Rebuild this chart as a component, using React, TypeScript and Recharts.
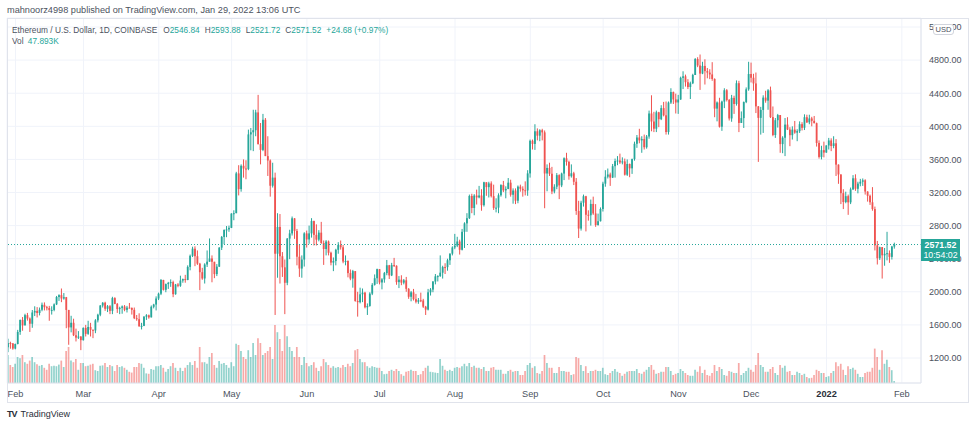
import React from 'react';
import { ComposedChart, Bar, XAxis, YAxis, CartesianGrid, ReferenceLine, Cell } from 'recharts';

// ETH/USD daily, Coinbase, 29 Jan 2021 -> 29 Jan 2022 (index 0 = 29 Jan 2021)
const firstOpen = 1330;
const lastOpen = 2546.84;

const closes = [
  1381, 1377, 1314,
  // Feb
  1369, 1515, 1660, 1594, 1718, 1677, 1614, 1750, 1769, 1744, 1783, 1843, 1814, 1804, 1779, 1781, 1848, 1937, 1960, 1919, 1935, 1781, 1570, 1626, 1475, 1446, 1459, 1416,
  // Mar
  1564, 1492, 1575, 1541, 1533, 1655, 1723, 1834, 1868, 1795, 1826, 1770, 1924, 1854, 1791, 1806, 1823, 1782, 1809, 1806, 1782, 1681, 1669, 1582, 1588, 1700, 1716, 1691, 1819, 1846, 1919,
  // Apr
  1977, 2143, 2024, 2093, 2108, 2117, 1971, 2088, 2073, 2136, 2154, 2143, 2301, 2435, 2521, 2430, 2340, 2237, 2161, 2330, 2364, 2403, 2363, 2214, 2304, 2534, 2663, 2747, 2754, 2773,
  // May
  2945, 2950, 3431, 3241, 3523, 3490, 3484, 3902, 3928, 3953, 4168, 3785, 3715, 4079, 3640, 3587, 3282, 3380, 2460, 2784, 2430, 2296, 2109, 2643, 2706, 2888, 2736, 2424, 2281, 2390, 2706,
  // Jun
  2633, 2706, 2855, 2688, 2630, 2715, 2590, 2517, 2608, 2472, 2353, 2372, 2508, 2565, 2538, 2366, 2373, 2226, 2160, 2250, 1889, 1875, 1970, 1990, 1813, 1829, 1978, 2084, 2164, 2274,
  // Jul
  2113, 2150, 2226, 2321, 2198, 2323, 2315, 2117, 2147, 2111, 2139, 2036, 1940, 1994, 1911, 1880, 1898, 1895, 1820, 1785, 1994, 2027, 2124, 2187, 2190, 2231, 2299, 2298, 2381, 2461, 2536,
  // Aug
  2558, 2608, 2508, 2725, 2827, 2890, 3158, 3013, 3163, 3141, 3164, 3047, 3324, 3265, 3310, 3156, 3014, 3017, 3167, 3290, 3226, 3243, 3319, 3173, 3224, 3101, 3271, 3245, 3227, 3225, 3431,
  // Sep
  3825, 3787, 3940, 3887, 3953, 3927, 3430, 3497, 3427, 3212, 3270, 3410, 3286, 3429, 3614, 3570, 3397, 3432, 3330, 2977, 2764, 3077, 3155, 2931, 2925, 3062, 2947, 2807, 2853, 3001,
  // Oct
  3307, 3391, 3418, 3380, 3518, 3580, 3587, 3563, 3576, 3415, 3545, 3492, 3604, 3789, 3865, 3830, 3846, 3747, 3877, 4155, 4058, 3971, 4169, 4086, 4220, 4133, 3931, 4287, 4414, 4325, 4288,
  // Nov
  4324, 4586, 4604, 4533, 4475, 4520, 4620, 4813, 4735, 4637, 4730, 4667, 4649, 4627, 4572, 4214, 4288, 3995, 4299, 4436, 4318, 4095, 4344, 4270, 4521, 4041, 4099, 4293, 4447, 4632,
  // Dec
  4587, 4518, 4241, 4102, 4198, 4347, 4310, 4435, 4111, 3895, 4074, 4136, 3785, 3862, 4021, 3961, 3893, 3960, 3924, 3942, 4026, 3982, 4110, 4048, 4095, 4066, 4038, 3799, 3630, 3712, 3683,
  // Jan 2022
  3769, 3829, 3762, 3795, 3537, 3418, 3192, 3085, 3156, 3081, 3238, 3372, 3245, 3308, 3330, 3348, 3212, 3160, 3082, 3000, 2561, 2406, 2540, 2441, 2459, 2467, 2422, 2547, 2571.52,
];

const highs = [
  1433, 1397, 1380,
  1374, 1540, 1665, 1695, 1735, 1745, 1690, 1780, 1825, 1815, 1810, 1870, 1872, 1830, 1830, 1825, 1860, 1950, 1970, 2040, 1985, 1938, 1780, 1710, 1675, 1555, 1525, 1465,
  1570, 1600, 1650, 1625, 1545, 1670, 1735, 1840, 1875, 1880, 1840, 1840, 1940, 1935, 1865, 1820, 1835, 1840, 1830, 1865, 1810, 1810, 1720, 1740, 1625, 1705, 1730, 1725, 1835, 1855, 1945,
  1990, 2155, 2145, 2100, 2120, 2150, 2135, 2095, 2105, 2195, 2160, 2205, 2320, 2450, 2545, 2550, 2500, 2350, 2290, 2345, 2500, 2645, 2440, 2360, 2335, 2540, 2675, 2755, 2795, 2800,
  2950, 2985, 3450, 3530, 3540, 3600, 3590, 3960, 3980, 4200, 4200, 4380, 4040, 4150, 4100, 3880, 3600, 3560, 3440, 2950, 2940, 2480, 2390, 2650, 2750, 2910, 2890, 2760, 2570, 2440, 2720,
  2740, 2800, 2890, 2860, 2815, 2745, 2845, 2620, 2625, 2620, 2485, 2415, 2520, 2600, 2620, 2565, 2440, 2380, 2270, 2265, 2250, 2000, 2050, 2040, 2000, 1860, 1995, 2105, 2210, 2280,
  2275, 2165, 2240, 2385, 2325, 2350, 2410, 2320, 2190, 2200, 2155, 2180, 2045, 2010, 2035, 1975, 1925, 1990, 1915, 1830, 2035, 2045, 2130, 2215, 2200, 2440, 2315, 2345, 2400, 2465, 2550,
  2700, 2665, 2630, 2760, 2840, 2950, 3175, 3185, 3180, 3235, 3280, 3240, 3330, 3320, 3330, 3335, 3295, 3130, 3190, 3300, 3340, 3275, 3375, 3355, 3250, 3250, 3285, 3295, 3275, 3335, 3470,
  3840, 3840, 4025, 3975, 3965, 3970, 3950, 3540, 3560, 3510, 3300, 3435, 3420, 3440, 3625, 3680, 3585, 3540, 3450, 3375, 3100, 3100, 3175, 3160, 2985, 3115, 3150, 3060, 2945, 3020,
  3330, 3470, 3490, 3440, 3545, 3610, 3640, 3670, 3625, 3610, 3600, 3550, 3610, 3815, 3895, 3970, 3880, 3900, 3895, 4190, 4375, 4175, 4190, 4175, 4255, 4295, 4300, 4300, 4460, 4420, 4395,
  4380, 4600, 4665, 4625, 4570, 4540, 4635, 4825, 4835, 4868, 4780, 4810, 4705, 4690, 4775, 4580, 4300, 4345, 4310, 4460, 4450, 4330, 4380, 4370, 4555, 4550, 4180, 4300, 4470, 4780,
  4770, 4635, 4650, 4245, 4235, 4375, 4430, 4450, 4480, 4240, 4100, 4150, 4135, 3880, 4100, 4110, 3990, 4000, 4065, 3965, 4060, 4050, 4145, 4140, 4140, 4115, 4125, 4045, 3830, 3765, 3815,
  3770, 3860, 3855, 3880, 3845, 3540, 3420, 3240, 3210, 3175, 3260, 3410, 3420, 3330, 3365, 3370, 3360, 3215, 3175, 3265, 3030, 2615, 2545, 2450, 2530, 2725, 2500, 2555, 2593.88,
];

const lows = [
  1270, 1312, 1300,
  1305, 1365, 1480, 1530, 1595, 1652, 1515, 1565, 1707, 1690, 1715, 1765, 1775, 1775, 1650, 1725, 1765, 1840, 1890, 1875, 1905, 1560, 1360, 1510, 1465, 1400, 1430, 1295,
  1410, 1460, 1480, 1460, 1440, 1500, 1630, 1705, 1810, 1770, 1755, 1730, 1730, 1850, 1745, 1730, 1735, 1765, 1750, 1800, 1725, 1670, 1650, 1580, 1545, 1585, 1660, 1675, 1690, 1800, 1775,
  1900, 1960, 2015, 1995, 2035, 2060, 1935, 1965, 2055, 2060, 2110, 2110, 2140, 2260, 2420, 2310, 2325, 2020, 2145, 2100, 2300, 2370, 2115, 2165, 2190, 2300, 2505, 2575, 2660, 2725,
  2770, 2865, 2950, 3165, 3210, 3380, 3360, 3470, 3710, 3700, 3880, 3780, 3540, 3700, 3640, 3400, 3150, 3260, 1720, 2170, 2100, 2180, 1730, 2080, 2395, 2680, 2640, 2320, 2180, 2170, 2305,
  2535, 2580, 2655, 2560, 2560, 2610, 2580, 2325, 2440, 2440, 2320, 2250, 2320, 2460, 2510, 2345, 2320, 2175, 2140, 2050, 1880, 1700, 1860, 1875, 1800, 1720, 1820, 1960, 2075, 2095,
  2090, 2030, 2110, 2200, 2155, 2190, 2300, 2085, 2045, 2080, 2090, 2000, 1915, 1885, 1895, 1860, 1855, 1875, 1805, 1720, 1775, 1955, 1995, 2090, 2125, 2180, 2160, 2215, 2255, 2325, 2440,
  2515, 2540, 2450, 2500, 2530, 2725, 2880, 2950, 2925, 3055, 3130, 2980, 3030, 3160, 3140, 3140, 2990, 2960, 2950, 3150, 3205, 3130, 3240, 3150, 3065, 3060, 3070, 3210, 3150, 3165, 3160,
  3380, 3720, 3715, 3830, 3820, 3830, 3010, 3215, 3400, 3180, 3190, 3240, 3120, 3265, 3350, 3525, 3355, 3380, 3290, 2930, 2650, 2740, 3030, 2730, 2860, 2800, 2930, 2785, 2800, 2850,
  2970, 3270, 3370, 3280, 3375, 3380, 3530, 3545, 3540, 3405, 3400, 3385, 3425, 3585, 3740, 3795, 3680, 3720, 3730, 3850, 3940, 3930, 3930, 3990, 4075, 4120, 3900, 3900, 4270, 4270, 4155,
  4150, 4320, 4450, 4480, 4450, 4330, 4510, 4620, 4715, 4440, 4630, 4505, 4580, 4570, 4550, 4110, 4060, 3985, 3945, 4220, 4300, 4070, 4055, 4150, 4250, 3930, 4040, 3980, 4280, 4430,
  4530, 4430, 4160, 3570, 3900, 3920, 4285, 4200, 4100, 3880, 3860, 3985, 3680, 3675, 3640, 3955, 3760, 3840, 3910, 3820, 3920, 3950, 3955, 4040, 4025, 4000, 4035, 3755, 3610, 3600, 3625,
  3680, 3720, 3700, 3735, 3400, 3305, 3060, 3000, 3070, 2930, 3060, 3230, 3220, 3190, 3275, 3280, 3175, 3090, 3050, 2980, 2500, 2330, 2385, 2160, 2315, 2380, 2350, 2390, 2521.72,
];

// volume, thousands of ETH
const vols = [
  700, 450, 400,
  480, 650, 620, 700, 520, 480, 560, 650, 520, 470, 430, 450, 380, 330, 480, 420, 430, 420, 460, 560, 400, 800, 900, 560, 520, 600, 330, 500,
  500, 420, 430, 460, 480, 320, 300, 430, 440, 500, 400, 450, 420, 300, 450, 400, 420, 380, 330, 280, 260, 400, 400, 500, 480, 380, 240, 230, 350, 330, 420,
  420, 450, 380, 280, 350, 420, 500, 380, 300, 380, 300, 380, 450, 520, 450, 550, 380, 900, 520, 520, 480, 650, 750, 450, 380, 550, 480, 500, 450, 380,
  520, 420, 980, 950, 800, 650, 600, 820, 650, 1000, 700, 1120, 1000, 700, 750, 800, 900, 600, 1450, 1270, 1100, 800, 1450, 1170, 900, 800, 650, 900, 650, 450, 650,
  500, 420, 450, 520, 380, 300, 420, 600, 520, 450, 380, 420, 380, 400, 380, 450, 400, 480, 420, 500, 820, 850, 600, 520, 520, 420, 380, 420, 400, 380,
  380, 300, 220, 230, 300, 330, 300, 350, 300, 220, 180, 280, 300, 330, 300, 300, 200, 220, 300, 380, 430, 280, 270, 260, 250, 600, 430, 330, 300, 330, 300,
  380, 400, 380, 420, 480, 420, 500, 400, 430, 380, 380, 350, 400, 300, 300, 380, 400, 330, 330, 330, 230, 230, 300, 330, 280, 300, 300, 200, 200, 300, 450,
  500, 380, 420, 250, 230, 300, 700, 500, 380, 380, 250, 250, 400, 300, 300, 280, 280, 200, 220, 650, 620, 450, 300, 420, 250, 300, 300, 330, 300, 300,
  380, 220, 200, 250, 300, 350, 280, 250, 180, 230, 280, 300, 300, 300, 350, 250, 230, 280, 330, 400, 450, 330, 230, 250, 280, 280, 400, 400, 300, 200, 230,
  250, 350, 300, 250, 200, 180, 180, 330, 280, 420, 250, 330, 200, 180, 250, 450, 300, 400, 350, 200, 180, 300, 280, 250, 250, 500, 200, 250, 300, 380,
  330, 280, 450, 750, 450, 400, 280, 280, 350, 400, 250, 200, 450, 380, 430, 280, 300, 200, 200, 280, 250, 200, 230, 150, 120, 130, 200, 330, 300, 250, 250,
  150, 170, 250, 300, 520, 420, 480, 330, 200, 420, 350, 380, 330, 230, 150, 150, 250, 280, 280, 380, 860, 650, 330, 820, 480, 580, 400, 320, 47.893,
];

const monthTicks = [3, 31, 62, 92, 123, 153, 184, 215, 245, 276, 306, 337, 368];
const monthLabels = ['Feb', 'Mar', 'Apr', 'May', 'Jun', 'Jul', 'Aug', 'Sep', 'Oct', 'Nov', 'Dec', '2022', 'Feb'];
const priceTicks = [1200, 1600, 2000, 2400, 2800, 3200, 3600, 4000, 4400, 4800, 5200];

const UP = '#26a69a';
const DOWN = '#ef5350';
const VOL_UP = 'rgba(38,166,154,0.5)';
const VOL_DOWN = 'rgba(239,83,80,0.5)';
const FONT = '"Liberation Sans", Arial, sans-serif';
const TEXT = '#4c525e';

const candles = closes.map((c, i) => {
  const o = i === 0 ? firstOpen : i === closes.length - 1 ? lastOpen : closes[i - 1];
  const h = Math.max(highs[i], o, c);
  const l = Math.min(lows[i], o, c);
  return { i, o, h, l, c, range: [l, h], v: vols[i] };
});

const Candle = (props: any) => {
  const { x, y, width, height, payload } = props;
  if (!payload) return null;
  const { o, h, l, c } = payload;
  const color = c >= o ? UP : DOWN;
  const top = Math.min(y, y + height);
  const hgt = Math.abs(height);
  const cx = x + width / 2;
  const ppu = hgt / (h - l || 1);
  const bodyTop = top + (h - Math.max(o, c)) * ppu;
  const bodyH = Math.max(Math.abs(o - c) * ppu, 1);
  return (
    <g>
      <line x1={cx} x2={cx} y1={top} y2={top + hgt} stroke={color} strokeWidth={1} />
      <rect x={cx - 0.9} y={bodyTop} width={1.8} height={bodyH} fill={color} />
    </g>
  );
};

const MonthTick = (props: any) => {
  const { x, y, payload } = props;
  const label = monthLabels[monthTicks.indexOf(payload.value)];
  const bold = label === '2022';
  return (
    <text x={x} y={y + 12} textAnchor="middle" fontSize={9.2} fontFamily={FONT}
      fill={bold ? '#2a2e39' : TEXT} fontWeight={bold ? 700 : 400}>
      {label}
    </text>
  );
};

const PriceTick = (props: any) => {
  const { x, y, payload } = props;
  return (
    <text x={x + 6} y={y + 3.3} fontSize={9} fontFamily={FONT} fill={TEXT}>
      {payload.value.toFixed(2)}
    </text>
  );
};

export default function App() {
  return (
    <div style={{ position: 'absolute', left: 0, top: 0, width: 975, height: 427, background: '#fff', overflow: 'hidden', fontFamily: FONT }}>
      <div style={{ position: 'absolute', left: 7, top: 4, fontSize: 9.2, lineHeight: '12px', color: TEXT, whiteSpace: 'nowrap' }}>
        mahnoorz4998 published on TradingView.com, Jan 29, 2022 13:06 UTC
      </div>
      <ComposedChart width={975} height={427} data={candles} margin={{ top: 18, right: 7, bottom: 25, left: 7 }}>
        <CartesianGrid xAxisId="px" yAxisId="price" stroke="#f0f3fa" />
        <XAxis xAxisId="px" dataKey="i" type="number" domain={[-0.5, 375.9]} allowDataOverflow
          ticks={monthTicks} interval={0} height={19} tickLine={false} tickSize={0}
          axisLine={{ stroke: '#e0e3eb' }} tick={<MonthTick />} />
        <XAxis xAxisId="vx" dataKey="i" type="number" domain={[-0.5, 375.9]} allowDataOverflow hide />
        <YAxis yAxisId="price" orientation="right" domain={[898, 5309]} allowDataOverflow ticks={priceTicks}
          interval={0} width={47} tickLine={false} tickSize={0} axisLine={{ stroke: '#e0e3eb' }} tick={<PriceTick />} />
        <YAxis yAxisId="vol" domain={[0, 9125]} allowDataOverflow hide />
        <Bar xAxisId="vx" yAxisId="vol" dataKey="v" barSize={1.7} isAnimationActive={false}>
          {candles.map((d) => (
            <Cell key={d.i} fill={d.c >= d.o ? VOL_UP : VOL_DOWN} />
          ))}
        </Bar>
        <ReferenceLine xAxisId="px" yAxisId="price" y={2571.52} stroke={UP} strokeDasharray="1 2" />
        <Bar xAxisId="px" yAxisId="price" dataKey="range" barSize={2} shape={Candle} isAnimationActive={false} />
      </ComposedChart>
      <div style={{ position: 'absolute', left: 7, top: 18, width: 960, height: 383, border: '1px solid #e0e3eb', pointerEvents: 'none' }} />
      <div style={{ position: 'absolute', left: 12, top: 24, fontSize: 8.3, lineHeight: '12px', color: TEXT, whiteSpace: 'nowrap' }}>
        Ethereum / U.S. Dollar, 1D, COINBASE
        <span style={{ marginLeft: 6 }}>O</span><span style={{ color: UP }}>2546.84</span>
        <span style={{ marginLeft: 5 }}>H</span><span style={{ color: UP }}>2593.88</span>
        <span style={{ marginLeft: 5 }}>L</span><span style={{ color: UP }}>2521.72</span>
        <span style={{ marginLeft: 5 }}>C</span><span style={{ color: UP }}>2571.52</span>
        <span style={{ marginLeft: 5, color: UP }}>+24.68 (+0.97%)</span>
      </div>
      <div style={{ position: 'absolute', left: 12, top: 35, fontSize: 8.3, lineHeight: '12px', color: TEXT, whiteSpace: 'nowrap' }}>
        Vol <span style={{ color: UP, marginLeft: 2 }}>47.893K</span>
      </div>
      <div style={{ position: 'absolute', left: 933, top: 24, width: 19, height: 9, border: '1px solid #d1d4dc', borderRadius: 3, background: '#fff', fontSize: 7.5, lineHeight: '9px', textAlign: 'center', color: TEXT }}>
        USD
      </div>
      <div style={{ position: 'absolute', left: 921, top: 239, width: 39, height: 22, background: UP, color: '#fff', fontSize: 8.8, lineHeight: '10px', textAlign: 'center', paddingTop: 1, boxSizing: 'border-box' }}>
        <div style={{ fontWeight: 700 }}>2571.52</div>
        <div>10:54:02</div>
      </div>
      <div style={{ position: 'absolute', left: 7, top: 409, display: 'flex', alignItems: 'center', fontSize: 9, color: '#2a2e39', whiteSpace: 'nowrap' }}>
        <span style={{ fontWeight: 900, fontSize: 9, letterSpacing: -1, marginRight: 4 }}>TV</span>
        TradingView
      </div>
    </div>
  );
}
